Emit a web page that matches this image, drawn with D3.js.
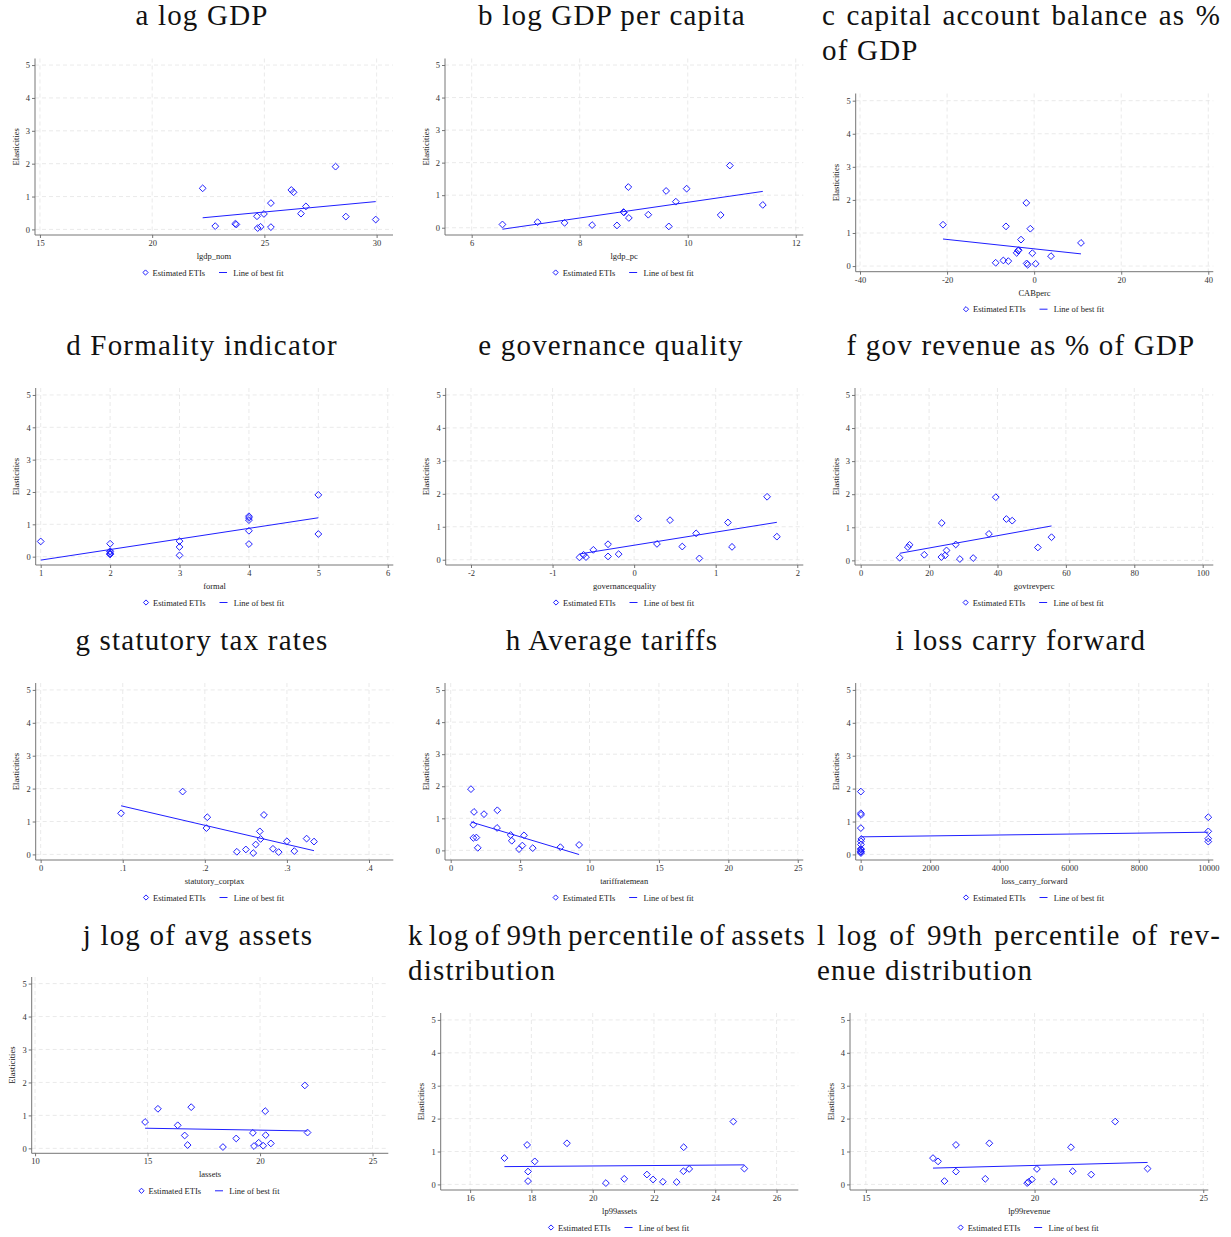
<!DOCTYPE html>
<html>
<head>
<meta charset="utf-8">
<script src="https://cdn.jsdelivr.net/npm/d3@7"></script>
<style>
  body { margin: 0; background: #fff; }
  svg { display: block; }
</style>
</head>
<body>
<svg id="chart" width="1231" height="1237"></svg>
<script>
// Estimated ETIs (elasticities) against twelve country characteristics.

// a — log nominal GDP
const lgdpNom = [22.25, 22.81, 23.70, 23.75, 24.67, 24.70, 24.83, 24.98, 25.29, 25.29, 26.20, 26.30, 26.63, 26.85, 28.17, 28.63, 29.96];
const etiA    = [1.25, 0.10, 0.17, 0.15, 0.40, 0.04, 0.08, 0.47, 0.80, 0.07, 1.20, 1.13, 0.48, 0.70, 1.91, 0.39, 0.30];
// b — log GDP per capita
const lgdpPc = [6.57, 7.22, 7.72, 8.23, 8.69, 8.81, 8.82, 8.90, 8.91, 9.27, 9.60, 9.65, 9.78, 9.98, 10.61, 10.78, 11.39];
const etiB   = [0.10, 0.17, 0.15, 0.08, 0.07, 0.48, 0.47, 1.25, 0.30, 0.40, 1.13, 0.04, 0.80, 1.20, 0.39, 1.91, 0.70];
// c — capital account balance, % of GDP
const cabPerc = [-20.94, -8.84, -7.08, -6.47, -5.93, -4.02, -3.71, -3.55, -3.02, -1.80, -1.72, -1.49, -0.88, -0.42, 0.34, 3.87, 10.76];
const etiC    = [1.25, 0.10, 0.17, 1.20, 0.15, 0.40, 0.47, 0.48, 0.80, 1.91, 0.08, 0.04, 1.13, 0.39, 0.07, 0.30, 0.70];
// d — formality indicator
const formal = [1, 2, 2, 2, 2, 2, 2, 3, 3, 3, 4, 4, 4, 4, 4, 5, 5];
const etiD   = [0.47, 0.40, 0.17, 0.15, 0.10, 0.08, 0.07, 0.48, 0.30, 0.04, 1.25, 1.20, 1.13, 0.80, 0.39, 1.91, 0.70];
// e — governance quality
const governance = [-0.67, -0.62, -0.59, -0.50, -0.32, -0.32, -0.19, 0.05, 0.28, 0.44, 0.59, 0.76, 0.80, 1.15, 1.20, 1.63, 1.75];
const etiE       = [0.07, 0.15, 0.08, 0.30, 0.47, 0.10, 0.17, 1.25, 0.48, 1.20, 0.40, 0.80, 0.04, 1.13, 0.39, 1.91, 0.70];
// f — government revenue, % of GDP
const govRevPerc = [11.4, 13.8, 14.3, 18.6, 23.7, 23.6, 24.7, 25.1, 27.8, 29.0, 32.9, 37.5, 39.5, 42.6, 44.3, 51.8, 55.8];
const etiF       = [0.08, 0.40, 0.47, 0.17, 1.13, 0.10, 0.15, 0.30, 0.48, 0.04, 0.07, 0.80, 1.91, 1.25, 1.20, 0.39, 0.70];
// g — statutory corporate tax rate
const corpTax = [0.098, 0.173, 0.203, 0.202, 0.239, 0.250, 0.259, 0.262, 0.267, 0.268, 0.272, 0.283, 0.290, 0.300, 0.309, 0.324, 0.333];
const etiG    = [1.25, 1.91, 1.13, 0.80, 0.08, 0.15, 0.04, 0.30, 0.70, 0.47, 1.20, 0.17, 0.07, 0.40, 0.10, 0.48, 0.39];
// h — mean tariff rate
const tariffMean = [1.46, 1.68, 1.63, 1.63, 1.85, 1.95, 2.40, 3.34, 3.36, 4.32, 4.40, 4.92, 5.16, 5.28, 5.91, 7.90, 9.25];
const etiH       = [1.91, 1.20, 0.80, 0.39, 0.40, 0.08, 1.13, 0.70, 1.25, 0.48, 0.30, 0.04, 0.15, 0.47, 0.07, 0.10, 0.17];
// i — loss carry forward (10000 = unlimited)
const lossCarry = [5, 5, 10, 5, 20, 7, 9, 5, 10, 5, 6, 5, 8, 10000, 10000, 10000, 10000];
const etiI      = [1.91, 1.25, 1.20, 0.80, 0.47, 0.40, 0.30, 0.17, 0.15, 0.10, 0.08, 0.07, 0.04, 1.13, 0.70, 0.48, 0.39];
// j — log of average assets
const lAssets = [14.89, 15.46, 16.34, 16.65, 16.78, 16.94, 18.35, 18.94, 19.68, 19.73, 19.94, 20.14, 20.23, 20.25, 20.48, 21.99, 22.11];
const etiJ    = [0.80, 1.20, 0.70, 0.39, 0.10, 1.25, 0.04, 0.30, 0.47, 0.07, 0.17, 0.08, 1.13, 0.40, 0.15, 1.91, 0.48];
// k — log of 99th percentile of assets
const lp99Assets = [17.12, 17.86, 17.89, 17.89, 18.11, 19.16, 20.43, 21.03, 21.77, 21.97, 22.29, 22.74, 22.96, 22.97, 23.15, 24.59, 24.95];
const etiK       = [0.80, 1.20, 0.39, 0.10, 0.70, 1.25, 0.04, 0.17, 0.30, 0.15, 0.08, 0.07, 0.40, 1.13, 0.47, 1.91, 0.48];
// l — log of 99th percentile of revenue
const lp99Revenue = [16.99, 17.14, 17.33, 17.67, 17.67, 18.54, 18.66, 19.78, 19.82, 19.92, 20.07, 20.57, 21.08, 21.13, 21.68, 22.39, 23.35];
const etiL        = [0.80, 0.70, 0.10, 1.20, 0.39, 0.17, 1.25, 0.04, 0.07, 0.15, 0.47, 0.08, 1.13, 0.40, 0.30, 1.91, 0.48];

// Axis ticks
const yTicks = [0, 1, 2, 3, 4, 5];
const ticksA = [15, 20, 25, 30];
const ticksB = [6, 8, 10, 12];
const ticksC = [-40, -20, 0, 20, 40];
const ticksD = [1, 2, 3, 4, 5, 6];
const ticksE = [-2, -1, 0, 1, 2];
const ticksF = [0, 20, 40, 60, 80, 100];
const ticksG = [0, 0.1, 0.2, 0.3, 0.4];
const ticksH = [0, 5, 10, 15, 20, 25];
const ticksI = [0, 2000, 4000, 6000, 8000, 10000];
const ticksJ = [10, 15, 20, 25];
const ticksK = [16, 18, 20, 22, 24, 26];
const ticksL = [15, 20, 25];

// Panel titles and axis titles
const titles = [
  ["a log GDP"],
  ["b log GDP per capita"],
  ["c capital account balance as %", "of GDP"],
  ["d Formality indicator"],
  ["e governance quality"],
  ["f gov revenue as % of GDP"],
  ["g statutory tax rates"],
  ["h Average tariffs"],
  ["i loss carry forward"],
  ["j log of avg assets"],
  ["k log of 99th percentile of assets", "distribution"],
  ["l log of 99th percentile of rev-", "enue distribution"]
];
const xTitles = ["lgdp_nom", "lgdp_pc", "CABperc", "formal", "governancequality", "govtrevperc",
                 "statutory_corptax", "tariffratemean", "loss_carry_forward", "lassets", "lp99assets", "lp99revenue"];
const yTitle = "Elasticities";
const legendLabels = ["Estimated ETIs", "Line of best fit"];

const series = [
  [lgdpNom, etiA, ticksA], [lgdpPc, etiB, ticksB], [cabPerc, etiC, ticksC],
  [formal, etiD, ticksD], [governance, etiE, ticksE], [govRevPerc, etiF, ticksF],
  [corpTax, etiG, ticksG], [tariffMean, etiH, ticksH], [lossCarry, etiI, ticksI],
  [lAssets, etiJ, ticksJ], [lp99Assets, etiK, ticksK], [lp99Revenue, etiL, ticksL]
];

// Layout: plot frame [left, top, right, bottom], axis extents, title placement
const layout = [
  { frame: [35, 58.5, 393, 235],         xd: [14.78, 30.73],  yd: [-0.17, 5.2],   title: { cx: 202, y: [25] } },
  { frame: [445, 58.5, 803.3, 235],      xd: [5.506, 12.14],  yd: [-0.224, 5.2],  title: { cx: 612, y: [25] } },
  { frame: [855.7, 93.5, 1213.3, 271.7], xd: [-40.99, 41.15], yd: [-0.17, 5.217], title: { x0: 822, x1: 1221, y: [25, 60] } },
  { frame: [35.7, 388, 393.3, 565],      xd: [0.928, 6.08],   yd: [-0.258, 5.216], title: { cx: 202, y: [355] } },
  { frame: [445.7, 388, 803.3, 565],     xd: [-2.31, 2.074],  yd: [-0.16, 5.21],  title: { cx: 611, y: [355] } },
  { frame: [855, 388, 1213.3, 565],      xd: [-1.66, 103.1],  yd: [-0.14, 5.21],  title: { cx: 1021, y: [355] } },
  { frame: [35.7, 683, 393.3, 860],      xd: [-0.006, 0.4296], yd: [-0.17, 5.21], title: { cx: 202, y: [650] } },
  { frame: [445, 683, 803.3, 860],       xd: [-0.41, 25.4],   yd: [-0.30, 5.22],  title: { cx: 612, y: [650] } },
  { frame: [855.7, 683, 1213.3, 860],    xd: [-143, 10144],   yd: [-0.17, 5.21],  title: { cx: 1021, y: [650] } },
  { frame: [31.7, 977, 388.3, 1153.3],   xd: [9.85, 25.7],    yd: [-0.15, 5.2],   title: { cx: 198, y: [945] } },
  { frame: [440.7, 1013, 798.3, 1190],   xd: [15.04, 26.71],  yd: [-0.17, 5.21],  title: { x0: 408, x1: 806, y: [945, 980] } },
  { frame: [850, 1013, 1208.3, 1190],    xd: [14.53, 25.15],  yd: [-0.17, 5.21],  title: { x0: 817, x1: 1221, y: [945, 980] } }
];

const BLUE = "#1f1fff";
const SERIF = "'Liberation Serif', 'Times New Roman', serif";
const TITLE_SIZE = 29, TITLE_LS = 1.2;
const SMALL = 8.5;

const svg = d3.select("#chart");

// Ordinary least squares fit, evaluated at the extreme x values
function bestFit(xs, ys) {
  const mx = d3.mean(xs), my = d3.mean(ys);
  let sxy = 0, sxx = 0;
  xs.forEach((x, i) => { sxy += (x - mx) * (ys[i] - my); sxx += (x - mx) * (x - mx); });
  const b = sxy / sxx, a = my - b * mx;
  const [lo, hi] = d3.extent(xs);
  return [[lo, a + b * lo], [hi, a + b * hi]];
}

function tickFormat(t, ticks) {
  if (ticks === ticksG) return t === 0 ? "0" : d3.format(".1f")(t).replace(/^0/, "");
  return String(t);
}

const diamond = s => `M0,${-s}L${s},0L0,${s}L${-s},0Z`;

function drawTitle(g, lines, spec) {
  const style = sel => sel
    .attr("font-family", SERIF).attr("font-size", TITLE_SIZE)
    .attr("letter-spacing", TITLE_LS).attr("fill", "#111");
  if (spec.cx !== undefined) {
    lines.forEach((ln, i) => {
      g.append("text").call(style).attr("x", spec.cx).attr("y", spec.y[i])
        .attr("text-anchor", "middle").text(ln);
    });
    return;
  }
  // Justified first line, ragged following lines
  lines.forEach((ln, i) => {
    if (i === lines.length - 1) {
      g.append("text").call(style).attr("x", spec.x0).attr("y", spec.y[i]).text(ln);
      return;
    }
    const words = ln.split(" ");
    const nodes = words.map(w => g.append("text").call(style).attr("y", spec.y[i]).text(w));
    const widths = nodes.map(n => n.node().getComputedTextLength());
    const gap = (spec.x1 - spec.x0 - d3.sum(widths)) / (words.length - 1);
    let x = spec.x0;
    nodes.forEach((n, k) => { n.attr("x", x); x += widths[k] + gap; });
  });
}

series.forEach(([xs, ys, xt], p) => {
  const L = layout[p];
  const [left, top, right, bottom] = L.frame;
  const x = d3.scaleLinear().domain(L.xd).range([left, right]);
  const y = d3.scaleLinear().domain(L.yd).range([bottom, top]);
  const g = svg.append("g");

  drawTitle(g, titles[p], L.title);

  // Dashed grid
  g.append("g").selectAll("line").data(yTicks).join("line")
    .attr("x1", left).attr("x2", right).attr("y1", d => y(d)).attr("y2", d => y(d))
    .attr("stroke", "#e4e4e4").attr("stroke-width", 0.8).attr("stroke-dasharray", "4,3");
  g.append("g").selectAll("line").data(xt).join("line")
    .attr("x1", d => x(d)).attr("x2", d => x(d)).attr("y1", top).attr("y2", bottom)
    .attr("stroke", "#e4e4e4").attr("stroke-width", 0.8).attr("stroke-dasharray", "4,3");

  // Axes
  const yAxis = d3.axisLeft(y).tickValues(yTicks).tickSize(3).tickPadding(2).tickFormat(d => d);
  const xAxis = d3.axisBottom(x).tickValues(xt).tickSize(3).tickPadding(2).tickFormat(d => tickFormat(d, xt));
  const ya = g.append("g").attr("transform", `translate(${left},0)`).call(yAxis);
  const xa = g.append("g").attr("transform", `translate(0,${bottom})`).call(xAxis);
  [ya, xa].forEach(a => {
    a.select(".domain").attr("stroke", "#666").attr("stroke-width", 0.9)
      .attr("d", a === ya ? `M0,${top}V${bottom}` : `M${left},0H${right}`);
    a.selectAll(".tick line").attr("stroke", "#666").attr("stroke-width", 0.9);
    a.selectAll(".tick text").attr("font-family", SERIF).attr("font-size", SMALL).attr("fill", "#333");
  });

  // Axis titles
  const cx = (left + right) / 2;
  g.append("text").attr("x", cx).attr("y", bottom + 24).attr("text-anchor", "middle")
    .attr("font-family", SERIF).attr("font-size", SMALL).attr("fill", "#222").text(xTitles[p]);
  g.append("text").attr("transform", `translate(${left - 16.5},${(top + bottom) / 2}) rotate(-90)`)
    .attr("text-anchor", "middle").attr("font-family", SERIF).attr("font-size", SMALL)
    .attr("fill", "#222").text(yTitle);

  // Line of best fit
  const fit = bestFit(xs, ys);
  g.append("path").datum(fit)
    .attr("d", d3.line().x(d => x(d[0])).y(d => y(d[1])))
    .attr("fill", "none").attr("stroke", BLUE).attr("stroke-width", 1);

  // Estimated ETIs
  const pts = xs.map((v, i) => ({ x: v, y: ys[i] }));
  g.append("g").selectAll("path").data(pts).join("path")
    .attr("transform", d => `translate(${x(d.x)},${y(d.y)})`)
    .attr("d", diamond(3.4)).attr("fill", "none").attr("stroke", BLUE).attr("stroke-width", 1);

  // Legend
  const lg = g.append("g").attr("transform", `translate(${cx - 1.5},${bottom + 37.5})`);
  lg.append("path").attr("transform", "translate(-67,0)").attr("d", diamond(2.6))
    .attr("fill", "none").attr("stroke", BLUE).attr("stroke-width", 1);
  lg.append("text").attr("x", -60).attr("y", 3).attr("font-family", SERIF).attr("font-size", SMALL)
    .attr("fill", "#222").text(legendLabels[0]);
  lg.append("line").attr("x1", 6.5).attr("x2", 14.5).attr("y1", 0).attr("y2", 0)
    .attr("stroke", BLUE).attr("stroke-width", 1);
  lg.append("text").attr("x", 20.8).attr("y", 3).attr("font-family", SERIF).attr("font-size", SMALL)
    .attr("fill", "#222").text(legendLabels[1]);
});
</script>
</body>
</html>
